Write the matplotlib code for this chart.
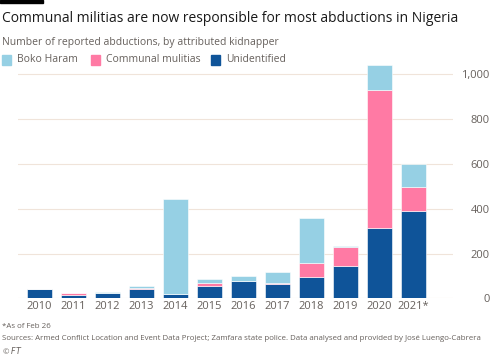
import numpy as np
import matplotlib.pyplot as plt
from matplotlib.patches import Rectangle

years = ['2010', '2011', '2012', '2013', '2014', '2015', '2016', '2017',
         '2018', '2019', '2020', '2021*']
unidentified = [40, 15, 25, 43, 18, 56, 77, 65, 98, 145, 315, 391]
communal = [0, 8, 0, 2, 0, 11, 0, 2, 60, 83, 615, 105]
boko_haram = [0, 0, 2, 10, 426, 20, 22, 50, 202, 4, 114, 104]

c_boko = '#96d0e4'
c_comm = '#ff7aa4'
c_unid = '#0f5499'
grey = '#66605c'

plt.rcParams['font.family'] = ['Open Sans', 'DejaVu Sans']

fig = plt.figure(figsize=(5, 3.57), dpi=100)
ax = fig.add_axes([0.036, 0.164, 0.87, 0.665])

x = np.arange(len(years))
unid = np.array(unidentified)
comm = np.array(communal)
boko = np.array(boko_haram)
w = 0.74
ax.bar(x, unid, w, color=c_unid, edgecolor='white', linewidth=0.4, zorder=3)
ax.bar(x, comm, w, bottom=unid, color=c_comm, edgecolor='white', linewidth=0.4, zorder=3)
ax.bar(x, boko, w, bottom=unid + comm, color=c_boko, edgecolor='white', linewidth=0.4, zorder=3)

ax.set_xlim(-0.62, 12.17)
ax.set_ylim(0, 1060)
ax.set_yticks([0, 200, 400, 600, 800, 1000])
ax.set_yticklabels(['0', '200', '400', '600', '800', '1,000'])
ax.yaxis.tick_right()
ax.tick_params(axis='y', length=0, pad=26.5, labelsize=8, labelcolor=grey)
for lab in ax.get_yticklabels():
    lab.set_horizontalalignment('right')
ax.set_xticks(x)
ax.set_xticklabels(years)
ax.tick_params(axis='x', length=0, pad=2, labelsize=8, labelcolor=grey)
ax.grid(axis='y', color='#f0e4da', linewidth=0.8, zorder=0)
for s in ax.spines.values():
    s.set_visible(False)

fig.patches.append(Rectangle((0, 1 - 3 / 357), 43 / 500, 3 / 357,
                             transform=fig.transFigure, color='black'))
fig.text(0.004, 1 - 18 / 357, 'Communal militias are now responsible for most abductions in Nigeria',
         fontsize=10, va='center', ha='left', color='#1a1a1a')
fig.text(0.004, 1 - 42 / 357, 'Number of reported abductions, by attributed kidnapper',
         fontsize=7.5, va='center', ha='left', color=grey)

# legend
leg_items = [('Boko Haram', c_boko, 2), ('Communal mulitias', c_comm, 91),
             ('Unidentified', c_unid, 211)]
for name, col, px in leg_items:
    fig.patches.append(Rectangle((px / 500, 1 - 64.5 / 357), 9 / 500, 9 / 357,
                                 transform=fig.transFigure, color=col))
    fig.text((px + 15) / 500, 1 - 60 / 357, name, fontsize=7.5, va='center',
             ha='left', color=grey)

fig.text(0.004, 1 - 326 / 357, '*As of Feb 26', fontsize=5.7, va='center', color=grey)
fig.text(0.004, 1 - 339 / 357,
         'Sources: Armed Conflict Location and Event Data Project; Zamfara state police. '
         'Data analysed and provided by José Luengo-Cabrera',
         fontsize=5.7, va='center', color=grey)
fig.text(0.004, 1 - 351 / 357, '© $\\it{FT}$', fontsize=5.7, va='center', color=grey)

fig.savefig('out.png', dpi=100)
